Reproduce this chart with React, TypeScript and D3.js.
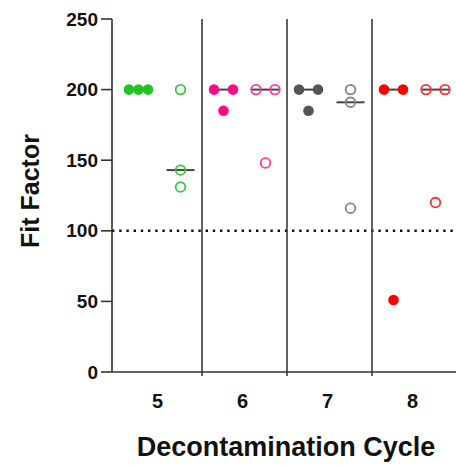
import React from "react";
import * as d3 from "d3";

// Decontamination cycles on the x axis
const cycles = ["5", "6", "7", "8"];

// Fit factor per mask, two groups per cycle (filled vs open markers)
const filledValues: number[][] = [
  [200, 200, 200],
  [200, 200, 185],
  [200, 200, 185],
  [200, 200, 51],
];
const openValues: number[][] = [
  [200, 143, 131],
  [200, 200, 148],
  [200, 191, 116],
  [200, 200, 120],
];

const filledColors = ["#22c322", "#ff0a84", "#555555", "#ff0000"];
const openColors = ["#3cc63c", "#ff3a9a", "#858585", "#ff3030"];

const yTicks = [0, 50, 100, 150, 200, 250];
const passLevel = 100;

const W = 456;
const H = 465;
const left = 112;
const top = 19;
const bottom = 372;
const FONT = "'Liberation Sans', Arial, Helvetica, sans-serif";

const y = d3.scaleLinear().domain([0, 250]).range([bottom, top]);
const x = d3.scaleBand().domain(cycles).range([117, 457]);
const group = d3.scaleBand().domain(["filled", "open"]).range([-42, 42]).paddingInner(0);

// spread equal values side by side within a fixed width
function spread(values: number[], width = 19) {
  return values.map((v, i) => {
    const same = values.map((w, j) => (w === v ? j : -1)).filter((j) => j >= 0);
    const n = same.length;
    if (n === 1) return 0;
    const k = same.indexOf(i);
    return -width / 2 + (k * width) / (n - 1);
  });
}

export default function App() {
  const bw = x.bandwidth();
  const renderGroup = (vals: number[], ci: number, kind: "filled" | "open") => {
    const cx0 = (x(cycles[ci]) ?? 0) + bw / 2 + (group(kind) ?? 0) + group.bandwidth() / 2;
    const offs = spread(vals);
    const med = d3.median(vals) ?? 0;
    return (
      <g key={kind + ci}>
        <line x1={cx0 - 14} x2={cx0 + 14} y1={y(med)} y2={y(med)} stroke="#444" strokeWidth={2} />
        {vals.map((v, i) =>
          kind === "filled" ? (
            <circle key={i} cx={cx0 + offs[i]} cy={y(v)} r={5.3} fill={filledColors[ci]} />
          ) : (
            <circle key={i} cx={cx0 + offs[i]} cy={y(v)} r={4.8} fill="none" stroke={openColors[ci]} strokeWidth={1.8} />
          )
        )}
      </g>
    );
  };

  return (
    <svg width={W} height={H} style={{ position: "absolute", left: 0, top: 0 }} fontFamily={FONT}>
      <rect width={W} height={H} fill="#fff" />
      {/* pass threshold */}
      <line x1={left} x2={W} y1={y(passLevel)} y2={y(passLevel)} stroke="#111" strokeWidth={2.6} strokeDasharray="2.4,4.8" />
      {/* panel dividers */}
      {cycles.slice(1).map((c) => (
        <line key={c} x1={x(c)} x2={x(c)} y1={top} y2={bottom + 4} stroke="#3a3a3a" strokeWidth={1.6} />
      ))}
      {/* axes */}
      <line x1={left} x2={left} y1={top} y2={bottom} stroke="#333" strokeWidth={1.6} />
      <line x1={left} x2={W} y1={bottom} y2={bottom} stroke="#333" strokeWidth={1.6} />
      {yTicks.map((t) => (
        <g key={t}>
          <line x1={left - 11} x2={left} y1={y(t)} y2={y(t)} stroke="#333" strokeWidth={1.6} />
          <text x={left - 14} y={y(t)} dy="0.35em" textAnchor="end" fontSize={19} fontWeight="bold" fill="#111">
            {t}
          </text>
        </g>
      ))}
      {cycles.map((c) => (
        <text key={c} x={(x(c) ?? 0) + bw / 2 - 2} y={408} textAnchor="middle" fontSize={20} fontWeight="bold" fill="#111">
          {c}
        </text>
      ))}
      {cycles.map((_, ci) => renderGroup(filledValues[ci], ci, "filled"))}
      {cycles.map((_, ci) => renderGroup(openValues[ci], ci, "open"))}
      <text x={286} y={456} textAnchor="middle" fontSize={27} fontWeight="bold" fill="#111">
        Decontamination Cycle
      </text>
      <text transform="translate(39,191) rotate(-90)" textAnchor="middle" fontSize={25} fontWeight="bold" fill="#111">
        Fit Factor
      </text>
    </svg>
  );
}
